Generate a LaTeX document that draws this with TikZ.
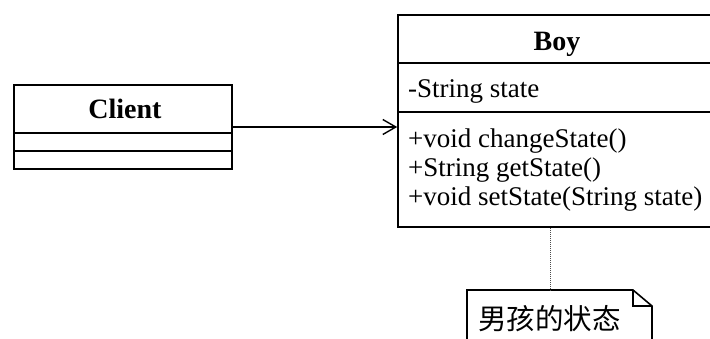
\documentclass[tikz,border=0pt]{standalone}
\usepackage{fontspec}
\setmainfont{Liberation Serif}
\newfontfamily\cjk{Noto Sans CJK SC}
\usetikzlibrary{arrows.meta}
\begin{document}
\begin{tikzpicture}[x=1pt,y=-1pt,
  umlbox/.style={draw,line width=1.6pt,rectangle,inner sep=0pt},
  sep/.style={line width=1.6pt},
  lbl/.style={inner sep=0pt,anchor=base west,font=\fontsize{27}{30}\selectfont},
  ttl/.style={inner sep=0pt,anchor=base,font=\fontsize{28}{30}\selectfont\bfseries},
  assoc/.style={line width=1.4pt,-{Straight Barb[length=13pt,width=15pt,line width=1.4pt]}},
  notelink/.style={line width=1pt,densely dotted,gray!60!black}]
\useasboundingbox (0,0) rectangle (710,338);
% Client
\node[umlbox,minimum width=218pt,minimum height=84pt] (client) at (123,127) {};
\draw[sep] (14,133) -- (232,133);
\draw[sep] (14,151) -- (232,151);
\node[ttl] (clientname) at (125,118) {Client};
% Boy
\node[umlbox,minimum width=314pt,minimum height=212pt] (boy) at (555,121) {};
\draw[sep] (398,63) -- (712,63);
\draw[sep] (398,112) -- (712,112);
\node[ttl] (boyname) at (557,50) {Boy};
\node[lbl] (attr) at (408,97) {-String state};
\node[lbl] (m1) at (408,147) {+void changeState()};
\node[lbl] (m2) at (408,176) {+String getState()};
\node[lbl] (m3) at (408,205) {+void setState(String state)};
% association
\draw[assoc] (client.east) -- (client.east -| boy.west);
% note
\draw[line width=1.6pt] (467,345) -- (467,290) -- (633,290) -- (652,306) -- (652,345);
\draw[line width=1.6pt] (633,290) -- (633,306) -- (652,306);
\coordinate (notetop) at (550,290);
\node[inner sep=0pt,anchor=base west,font=\cjk\fontsize{28.5}{30}\selectfont] (notetext) at (478,329) {男孩的状态};
\draw[notelink] (boy.south -| notetop) -- (notetop);
\end{tikzpicture}
\end{document}
